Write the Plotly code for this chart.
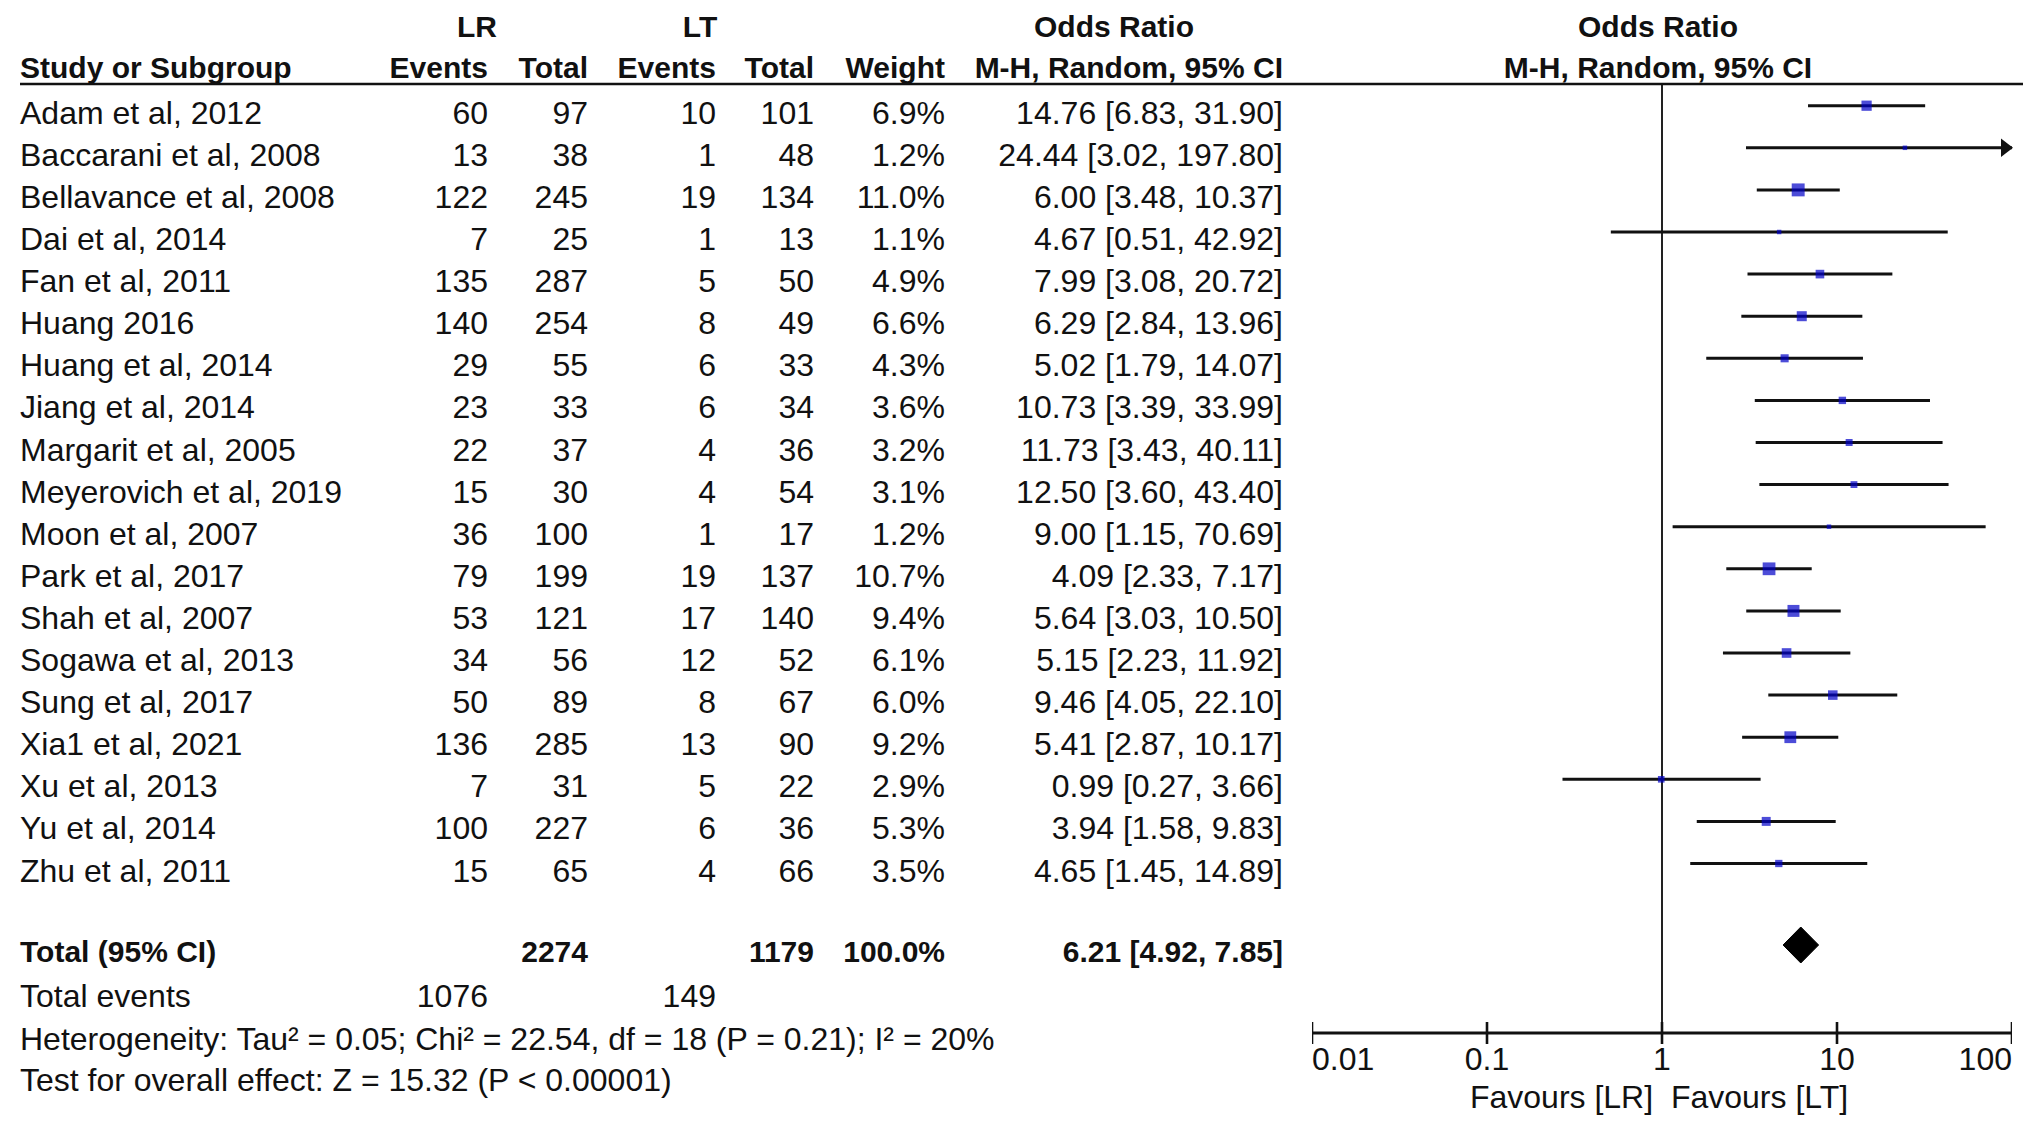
import math
import plotly.graph_objects as go

# ---------------- data ----------------
studies = ["Adam et al, 2012", "Baccarani et al, 2008", "Bellavance et al, 2008", "Dai et al, 2014",
           "Fan et al, 2011", "Huang 2016", "Huang et al, 2014", "Jiang et al, 2014",
           "Margarit et al, 2005", "Meyerovich et al, 2019", "Moon et al, 2007", "Park et al, 2017",
           "Shah et al, 2007", "Sogawa et al, 2013", "Sung et al, 2017", "Xia1 et al, 2021",
           "Xu et al, 2013", "Yu et al, 2014", "Zhu et al, 2011"]
lr_events = [60, 13, 122, 7, 135, 140, 29, 23, 22, 15, 36, 79, 53, 34, 50, 136, 7, 100, 15]
lr_total = [97, 38, 245, 25, 287, 254, 55, 33, 37, 30, 100, 199, 121, 56, 89, 285, 31, 227, 65]
lt_events = [10, 1, 19, 1, 5, 8, 6, 6, 4, 4, 1, 19, 17, 12, 8, 13, 5, 6, 4]
lt_total = [101, 48, 134, 13, 50, 49, 33, 34, 36, 54, 17, 137, 140, 52, 67, 90, 22, 36, 66]
weight = [6.9, 1.2, 11.0, 1.1, 4.9, 6.6, 4.3, 3.6, 3.2, 3.1, 1.2, 10.7, 9.4, 6.1, 6.0, 9.2, 2.9, 5.3, 3.5]
odds = [14.76, 24.44, 6.00, 4.67, 7.99, 6.29, 5.02, 10.73, 11.73, 12.50, 9.00, 4.09, 5.64, 5.15,
        9.46, 5.41, 0.99, 3.94, 4.65]
ci_lo = [6.83, 3.02, 3.48, 0.51, 3.08, 2.84, 1.79, 3.39, 3.43, 3.60, 1.15, 2.33, 3.03, 2.23,
         4.05, 2.87, 0.27, 1.58, 1.45]
ci_hi = [31.90, 197.80, 10.37, 42.92, 20.72, 13.96, 14.07, 33.99, 40.11, 43.40, 70.69, 7.17,
         10.50, 11.92, 22.10, 10.17, 3.66, 9.83, 14.89]

total_lr = 2274
total_lt = 1179
total_weight = 100.0
total_or = 6.21
total_lo = 4.92
total_hi = 7.85
events_lr = 1076
events_lt = 149
heterogeneity = "Heterogeneity: Tau\u00b2 = 0.05; Chi\u00b2 = 22.54, df = 18 (P = 0.21); I\u00b2 = 20%"
overall = "Test for overall effect: Z = 15.32 (P < 0.00001)"

tick_vals = [0.01, 0.1, 1, 10, 100]
tick_text = ["0.01", "0.1", "1", "10", "100"]
x_min, x_max = 0.01, 100

# ---------------- layout helpers ----------------
W, H = 2031, 1128
FONT = "Liberation Sans, Arial, sans-serif"
FS = 32
FSB = 30
TXT = "#111111"
TOFF = -5          # text baseline correction (pixels)
MOFF = -15         # marks sit slightly above the text centre
ROW0, ROWSTEP = 112.7, 42.1
row_y = [ROW0 + ROWSTEP * i for i in range(len(studies))]
text_y = [y + TOFF for y in row_y]
mark_y = [y + MOFF for y in row_y]
Y_H1, Y_H2, Y_LINE = 26 + TOFF, 67 + TOFF, 76
Y_TOT, Y_EV, Y_HET, Y_TEST = 951 + TOFF, 996 + TOFF, 1039 + TOFF, 1080 + TOFF
Y_DIA = 937
Y_AXIS, Y_TICKLAB, Y_FAV = 1025, 1054, 1092

# right edges of numeric columns (pixel x)
X_LRE, X_LRT, X_LTE, X_LTT, X_W, X_CI = 480, 580, 708, 806, 937, 1275
X_LEFT = 12

fig = go.Figure()


def col(x, ys, texts, pos="middle left", bold=False, axis="x"):
    fig.add_trace(go.Scatter(
        x=[x] * len(ys) if not isinstance(x, list) else x, y=ys, mode="text", text=texts,
        textposition=pos, xaxis=axis, yaxis="y", cliponaxis=False, hoverinfo="skip",
        showlegend=False,
        textfont=dict(family=FONT, size=FSB if bold else FS, color=TXT),
        texttemplate="<b>%{text}</b>" if bold else None))


# header rows
col([469, 692, 1106, 1650], [Y_H1] * 4, ["LR", "LT", "Odds Ratio", "Odds Ratio"], pos="middle center", bold=True)
col(X_LEFT, [Y_H2], ["Study or Subgroup"], pos="middle right", bold=True)
col([X_LRE, X_LRT, X_LTE, X_LTT, X_W, X_CI], [Y_H2] * 6,
    ["Events", "Total", "Events", "Total", "Weight", "M-H, Random, 95% CI"], bold=True)
col([1650], [Y_H2], ["M-H, Random, 95% CI"], pos="middle center", bold=True)

# study rows
col(X_LEFT, text_y, studies, pos="middle right")
col(X_LRE, text_y, [str(v) for v in lr_events])
col(X_LRT, text_y, [str(v) for v in lr_total])
col(X_LTE, text_y, [str(v) for v in lt_events])
col(X_LTT, text_y, [str(v) for v in lt_total])
col(X_W, text_y, [f"{w:.1f}%" for w in weight])
col(X_CI, text_y, [f"{o:.2f} [{l:.2f}, {h:.2f}]" for o, l, h in zip(odds, ci_lo, ci_hi)])

# total rows
col(X_LEFT, [Y_TOT], ["Total (95% CI)"], pos="middle right", bold=True)
col([X_LRT, X_LTT, X_W, X_CI], [Y_TOT] * 4,
    [str(total_lr), str(total_lt), f"{total_weight:.1f}%",
     f"{total_or:.2f} [{total_lo:.2f}, {total_hi:.2f}]"], bold=True)
col(X_LEFT, [Y_EV], ["Total events"], pos="middle right")
col([X_LRE, X_LTE], [Y_EV, Y_EV], [str(events_lr), str(events_lt)])
col(X_LEFT, [Y_HET, Y_TEST], [heterogeneity, overall], pos="middle right")

# header underline
fig.add_shape(type="line", xref="x", yref="y", x0=12, x1=2016, y0=Y_LINE, y1=Y_LINE,
              line=dict(color="#111111", width=2.5))

# ---------------- forest plot (log axis x2) ----------------
# line of no effect
fig.add_trace(go.Scatter(x=[1, 1], y=[Y_LINE, Y_AXIS], mode="lines", xaxis="x2", yaxis="y",
                         line=dict(color="#222222", width=2), hoverinfo="skip", showlegend=False))

# confidence intervals
for i in range(len(studies)):
    lo = max(ci_lo[i], x_min)
    hi = min(ci_hi[i], x_max)
    fig.add_trace(go.Scatter(x=[lo, hi], y=[mark_y[i]] * 2, mode="lines", xaxis="x2", yaxis="y",
                             line=dict(color="#111111", width=3), hoverinfo="skip",
                             showlegend=False))
    if ci_hi[i] > x_max:
        fig.add_trace(go.Scatter(x=[x_max / 10 ** (7 / 175)], y=[mark_y[i]], mode="markers",
                                 xaxis="x2", yaxis="y", cliponaxis=False,
                                 marker=dict(symbol="triangle-right", size=16, color="#111111",
                                             line=dict(width=0)),
                                 hoverinfo="skip", showlegend=False))

# point estimates
fig.add_trace(go.Scatter(x=odds, y=mark_y, mode="markers", xaxis="x2", yaxis="y",
                         marker=dict(symbol="square", color="#0000c8",
                                     size=[max(4.5, 3.9 * math.sqrt(w)) for w in weight],
                                     line=dict(width=0)),
                         hoverinfo="skip", showlegend=False))

# pooled diamond
dh = 18
fig.add_trace(go.Scatter(x=[total_lo, total_or, total_hi, total_or, total_lo],
                         y=[Y_DIA, Y_DIA - dh, Y_DIA, Y_DIA + dh, Y_DIA],
                         mode="lines", fill="toself", fillcolor="#000000", xaxis="x2", yaxis="y",
                         line=dict(color="#000000", width=1), hoverinfo="skip", showlegend=False))

# x axis line + ticks
fig.add_trace(go.Scatter(x=[x_min, x_max], y=[Y_AXIS, Y_AXIS], mode="lines", xaxis="x2", yaxis="y",
                         line=dict(color="#111111", width=3), hoverinfo="skip", showlegend=False))
tx, ty = [], []
for v in tick_vals:
    tx += [v, v, None]
    ty += [Y_AXIS - 11, Y_AXIS + 11, None]
fig.add_trace(go.Scatter(x=tx, y=ty, mode="lines", xaxis="x2", yaxis="y", cliponaxis=False,
                         line=dict(color="#111111", width=2.6), hoverinfo="skip", showlegend=False))

# tick labels
positions = ["middle right"] + ["middle center"] * (len(tick_vals) - 2) + ["middle left"]
fig.add_trace(go.Scatter(x=tick_vals, y=[Y_TICKLAB] * len(tick_vals), mode="text", text=tick_text,
                         textposition=positions, xaxis="x2", yaxis="y", cliponaxis=False,
                         textfont=dict(family=FONT, size=FS, color=TXT),
                         hoverinfo="skip", showlegend=False))
fig.add_trace(go.Scatter(x=[1, 1], y=[Y_FAV, Y_FAV], mode="text",
                         text=["Favours [LR] ", " Favours [LT]"],
                         textposition=["middle left", "middle right"], xaxis="x2", yaxis="y",
                         cliponaxis=False, textfont=dict(family=FONT, size=FS, color=TXT),
                         hoverinfo="skip", showlegend=False))

x2_left = 1304 / W
x2_right = 2004 / W
fig.update_layout(
    width=W, height=H,
    margin=dict(l=0, r=0, t=0, b=0),
    paper_bgcolor="white", plot_bgcolor="rgba(0,0,0,0)",
    showlegend=False,
    xaxis=dict(range=[0, W], domain=[0, 1], visible=False, fixedrange=True),
    xaxis2=dict(type="log", range=[math.log10(x_min), math.log10(x_max)],
                domain=[x2_left, x2_right], anchor="y", visible=False),
    yaxis=dict(range=[H, 0], domain=[0, 1], visible=False),
)

fig.write_html("out.html")
